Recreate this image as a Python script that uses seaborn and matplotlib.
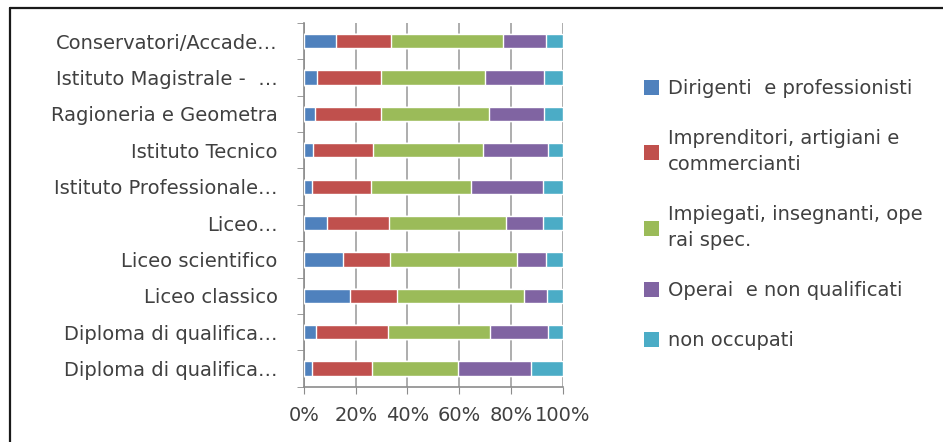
import numpy as np
import pandas as pd
import matplotlib
matplotlib.use("Agg")
import matplotlib.pyplot as plt
import seaborn as sns
from matplotlib.lines import Line2D
from matplotlib.patches import Patch
from matplotlib.ticker import PercentFormatter

# Data (percent shares per school type)
categorie = ["Conservatori/Accade…", "Istituto Magistrale -  …", "Ragioneria e Geometra",
             "Istituto Tecnico", "Istituto Professionale…", "Liceo…", "Liceo scientifico",
             "Liceo classico", "Diploma di qualifica…", "Diploma di qualifica…"]
dirigenti = [12.5, 5.0, 4.1, 3.5, 3.0, 8.9, 15.1, 17.7, 4.5, 3.0]
imprenditori = [21.3, 24.6, 25.5, 23.2, 22.8, 24.0, 18.3, 18.1, 27.8, 23.3]
impiegati = [43.2, 40.3, 42.0, 42.3, 38.7, 45.2, 49.0, 49.2, 39.6, 33.3]
operai = [16.5, 23.0, 21.3, 25.4, 27.8, 14.2, 11.1, 8.8, 22.3, 28.1]
non_occupati = [6.5, 7.1, 7.1, 5.6, 7.7, 7.7, 6.5, 6.2, 5.8, 12.3]

serie = ["Dirigenti  e professionisti", "Imprenditori, artigiani e\ncommercianti",
         "Impiegati, insegnanti, ope\nrai spec.", "Operai  e non qualificati", "non occupati"]
colori = ["#4F81BD", "#C0504D", "#9BBB59", "#8064A2", "#4BACC6"]

valori = np.array([dirigenti, imprenditori, impiegati, operai, non_occupati])
quote = valori / valori.sum(axis=0) * 100
cumulato = np.cumsum(quote, axis=0)

sns.set_style("white")
plt.rcParams["font.family"] = ["DejaVu Sans"]
testo = "#404040"
fs = 14

fig = plt.figure(figsize=(9.43, 4.42), dpi=100)
ax = fig.add_axes([0.3224, 0.125, 0.2743, 0.823])

# stacked bars: draw cumulative totals from the last series back to the first
ylab = [f"{i}" for i in range(len(categorie))]
for i in range(len(serie) - 1, -1, -1):
    df = pd.DataFrame({"cat": ylab, "val": cumulato[i]})
    sns.barplot(data=df, x="val", y="cat", color=colori[i], width=0.39,
                saturation=1, ax=ax, zorder=3)

ax.set_xlim(0, 100)
ax.set_ylim(len(categorie) - 0.5, -0.5)
ax.set_xticks([0, 20, 40, 60, 80, 100])
ax.xaxis.set_major_formatter(PercentFormatter(decimals=0))
ax.set_yticks(np.arange(len(categorie)))
ax.set_yticklabels(categorie)
ax.set_yticks(np.arange(len(categorie) + 1) - 0.5, minor=True)
ax.set_xlabel("")
ax.set_ylabel("")

ax.grid(axis="x", color="#a0a0a0", linewidth=1.2, zorder=0)
ax.grid(axis="y", visible=False)
for s in ["top", "right"]:
    ax.spines[s].set_visible(False)
for s in ["left", "bottom"]:
    ax.spines[s].set_color("#8c8c8c")
    ax.spines[s].set_linewidth(1.2)
ax.tick_params(axis="x", which="major", length=5, color="#8c8c8c", labelsize=fs,
               labelcolor=testo, pad=9, bottom=True)
ax.tick_params(axis="y", which="major", length=0, labelsize=fs, labelcolor=testo, pad=19)
ax.tick_params(axis="y", which="minor", length=5, color="#8c8c8c", left=True)

handles = [Patch(facecolor=c, edgecolor="none") for c in colori]
leg = fig.legend(handles, serie, loc="upper left", bbox_to_anchor=(0.664, 0.86),
                 frameon=False, fontsize=fs, labelcolor=testo, handlelength=0.8,
                 handleheight=0.8, handletextpad=0.45, labelspacing=1.6)
for t in leg.get_texts():
    t.set_linespacing(1.45)

# outer frame of the original chart
fig.add_artist(Line2D([10 / 943, 10 / 943], [0, 1 - 8 / 442], color="#1a1a1a", lw=1.6))
fig.add_artist(Line2D([10 / 943, 1], [1 - 8 / 442, 1 - 8 / 442], color="#1a1a1a", lw=1.6))

fig.savefig("out.png", dpi=100)
